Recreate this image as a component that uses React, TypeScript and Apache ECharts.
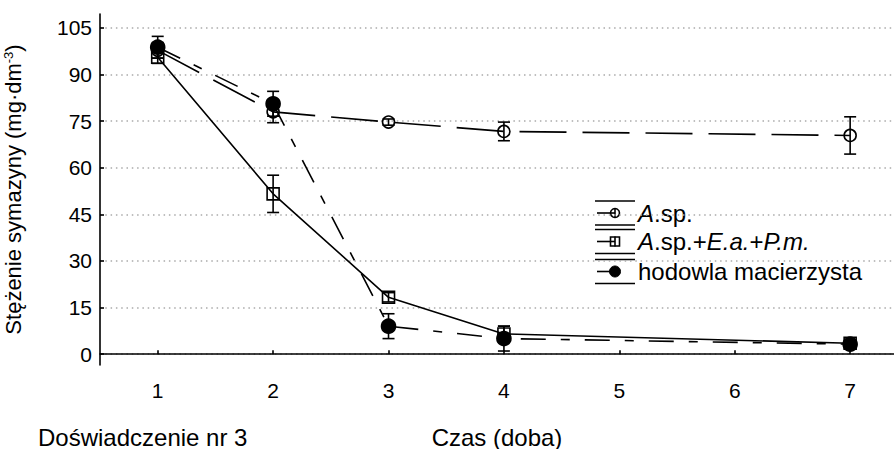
import React, { useEffect, useRef } from "react";
import * as echarts from "echarts";

const days = [1, 2, 3, 4, 7];
const xTicks = [1, 2, 3, 4, 5, 6, 7];
const yTicks = [0, 15, 30, 45, 60, 75, 90, 105];

const aspMean = [97.8, 78, 74.7, 71.7, 70.4];
const aspErr = [2.5, 3.5, 1, 3, 6];
const mixMean = [95.6, 51.6, 18.3, 6.5, 3.5];
const mixErr = [2, 6, 1.5, 2.5, 1];
const motherMean = [98.8, 80.6, 9, 5, 3.2];
const motherErr = [3.5, 4, 4, 4, 1];

const FONT = "'Liberation Sans', Arial, sans-serif";
const BLACK = "#000";
const TICK_FS = 21;
const TXT_FS = 24;
const YNAME_FS = 22;

function errData(mean: number[], err: number[]) {
  return days.map((d, i) => [d, mean[i] - err[i], mean[i] + err[i]]);
}

function errSeries(mean: number[], err: number[]) {
  return {
    type: "custom",
    data: errData(mean, err),
    z: 3,
    renderItem: (_p: any, api: any) => {
      const x = api.value(0);
      const lo = api.coord([x, api.value(1)]);
      const hi = api.coord([x, api.value(2)]);
      const w = 6;
      const style = { stroke: BLACK, lineWidth: 1.6 };
      return {
        type: "group",
        children: [
          { type: "line", shape: { x1: lo[0], y1: lo[1], x2: hi[0], y2: hi[1] }, style },
          { type: "line", shape: { x1: lo[0] - w, y1: lo[1], x2: lo[0] + w, y2: lo[1] }, style },
          { type: "line", shape: { x1: hi[0] - w, y1: hi[1], x2: hi[0] + w, y2: hi[1] }, style },
        ],
      };
    },
  };
}

function lineSeries(name: string, mean: number[], symbol: string, fill: string, dash: any, size: number) {
  return {
    name,
    type: "line",
    data: days.map((d, i) => [d, mean[i]]),
    symbol,
    symbolSize: size,
    showSymbol: true,
    z: 4,
    lineStyle: { color: BLACK, width: 1.6, type: dash },
    itemStyle: { color: fill, borderColor: BLACK, borderWidth: 1.6 },
    emphasis: { disabled: true },
  };
}

function legendItem(y: number, marker: any, label: any) {
  const ls = { stroke: BLACK, lineWidth: 1.6 };
  return [
    { type: "line", shape: { x1: 595, y1: y - 12, x2: 635, y2: y - 12 }, style: ls },
    { type: "line", shape: { x1: 595, y1: y + 12, x2: 635, y2: y + 12 }, style: ls },
    { type: "line", shape: { x1: 597, y1: y, x2: 615, y2: y }, style: ls },
    marker,
    { type: "line", shape: { x1: 615, y1: y - 5, x2: 615, y2: y + 5 }, style: ls },
    {
      type: "text",
      x: 638,
      y,
      style: {
        text: label,
        fontSize: TXT_FS,
        fontFamily: FONT,
        fill: BLACK,
        verticalAlign: "middle",
        rich: {
          i: { fontStyle: "italic", fontSize: TXT_FS, fontFamily: FONT, fill: BLACK },
          n: { fontSize: TXT_FS, fontFamily: FONT, fill: BLACK },
        },
      },
    },
  ];
}

export default function App() {
  const ref = useRef<HTMLDivElement>(null);
  useEffect(() => {
    if (!ref.current) return;
    const chart = echarts.init(ref.current, null, { renderer: "svg" });
    const axisLine = { show: true, lineStyle: { color: BLACK, width: 1.6 } };
    chart.setOption({
      animation: false,
      backgroundColor: "#fff",
      grid: { left: 100, right: 0, top: 14, bottom: 84, outerBoundsMode: "none", containLabel: false },
      xAxis: {
        type: "value",
        min: 0.5,
        max: 7.38,
        name: "Czas (doba)",
        nameLocation: "middle",
        nameGap: 60,
        nameTextStyle: { fontSize: TXT_FS, fontFamily: FONT, color: BLACK },
        axisLine,
        axisTick: { show: true, inside: true, length: 4, customValues: xTicks, lineStyle: { color: BLACK, width: 1.6 } },
        axisLabel: { customValues: xTicks, fontSize: TICK_FS, fontFamily: FONT, color: BLACK, margin: 15 },
        splitLine: { show: false },
      },
      yAxis: {
        type: "value",
        min: -3.5,
        max: 109.5,
        name: "Stężenie symazyny (mg·dm{sup|-3})",
        nameLocation: "middle",
        nameGap: 76,
        nameRotate: 90,
        nameTextStyle: {
          fontSize: YNAME_FS,
          fontFamily: FONT,
          color: BLACK,
          rich: { sup: { fontSize: 13, fontFamily: FONT, color: BLACK, verticalAlign: "top", padding: [0, 0, 6, 0] } },
        },
        axisLine,
        axisTick: { show: true, inside: true, length: 4, customValues: yTicks, lineStyle: { color: BLACK, width: 1.6 } },
        axisLabel: { customValues: yTicks, fontSize: TICK_FS, fontFamily: FONT, color: BLACK, margin: 8 },
        splitLine: { show: true, lineStyle: { color: "#aaa", width: 1.5, type: [1.5, 3.8] } },
      },
      series: [
        errSeries(aspMean, aspErr),
        errSeries(mixMean, mixErr),
        errSeries(motherMean, motherErr),
        lineSeries("A.sp.", aspMean, "circle", "rgba(0,0,0,0)", [47, 16], 12),
        lineSeries("A.sp.+E.a.+P.m.", mixMean, "rect", "rgba(0,0,0,0)", "solid", 12),
        lineSeries("hodowla macierzysta", motherMean, "circle", BLACK, [25, 15, 9, 15], 14),
      ],
      graphic: [
        ...legendItem(213, { type: "circle", shape: { cx: 615, cy: 213, r: 4.5 }, style: { fill: "none", stroke: BLACK, lineWidth: 1.6 } }, "{i|A}{n|.sp.}"),
        ...legendItem(241.5, { type: "rect", shape: { x: 610.5, y: 237, width: 9, height: 9 }, style: { fill: "none", stroke: BLACK, lineWidth: 1.6 } }, "{i|A}{n|.sp.+}{i|E.a.}{n|+}{i|P.m.}"),
        ...legendItem(271.5, { type: "circle", shape: { cx: 615, cy: 271.5, r: 5.5 }, style: { fill: BLACK, stroke: BLACK, lineWidth: 1 } }, "{n|hodowla macierzysta}"),
        {
          type: "text",
          x: 38,
          y: 437,
          style: { text: "Doświadczenie nr 3", fontSize: TXT_FS, fontFamily: FONT, fill: BLACK, verticalAlign: "middle" },
        },
      ],
    });
    return () => chart.dispose();
  }, []);
  return <div ref={ref} style={{ width: 894, height: 449, position: "absolute", left: 0, top: 0 }} />;
}
